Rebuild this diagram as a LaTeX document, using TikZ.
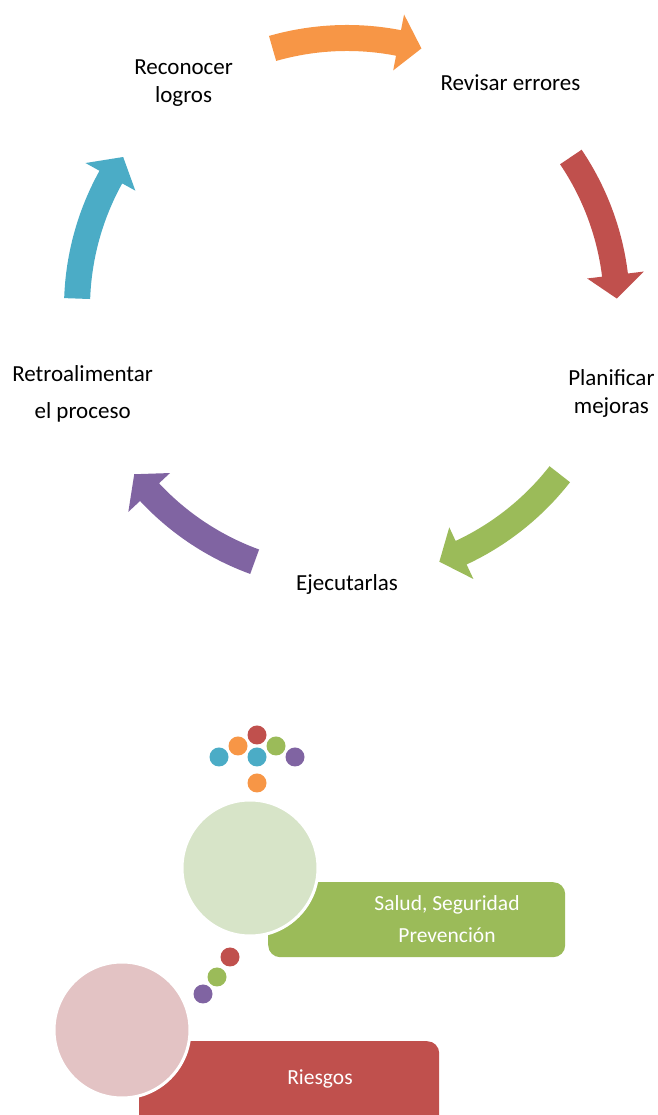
\documentclass[tikz,border=0pt]{standalone}
\usepackage{fontspec}
\setmainfont{Carlito}
\usetikzlibrary{positioning}
\definecolor{cOrange}{HTML}{F79646}
\definecolor{cRed}{HTML}{C0504D}
\definecolor{cGreen}{HTML}{9BBB59}
\definecolor{cPurple}{HTML}{8064A2}
\definecolor{cBlue}{HTML}{4BACC6}
\definecolor{cGreenLight}{RGB}{215,228,200}
\definecolor{cRedLight}{RGB}{227,195,196}

\begin{document}
\begin{tikzpicture}[
    x=1pt, y=1pt,
    lbl/.style={font=\fontsize{23}{28}\selectfont, align=center},
    boxtxt/.style={font=\fontsize{21.5}{32}\selectfont, align=center,
                   text=white},
    panel/.style={rounded corners=12pt, inner sep=0pt, anchor=north west},
    bubble/.style={circle, draw=white, line width=3pt, minimum size=136pt,
                   inner sep=0pt},
    dot/.style={circle, minimum size=19pt, inner sep=0pt}
  ]
  \useasboundingbox (0,0) rectangle (657,1115);

  % cycle of curved arrows
  \begin{scope}[shift={(347,807)}]
    \foreach \mid/\col in {90/cOrange, 18/cRed, -54/cGreen,
                           -126/cPurple, 162/cBlue} {
      \pgfmathsetmacro\ta{\mid+16}
      \pgfmathsetmacro\tb{\mid-16}
      \pgfmathsetmacro\th{\mid-11}
      \fill[\col] (\ta:283) arc[start angle=\ta, end angle=\th, radius=283]
        -- (\th:299) -- (\tb:270) -- (\th:242) -- (\th:257)
        arc[start angle=\th, end angle=\ta, radius=257] -- cycle;
    }
    \node[lbl] (logros)  at (126:278) {Reconocer\\logros};
    \node[lbl] (errores) at (54:278)  {Revisar errores};
    \node[lbl] (mejoras) at (-18:278) {Planificar\\mejoras};
    \node[lbl] (ejecutar) at (-90:276) {Ejecutarlas};
    \node[lbl] (retro)   at (-162:278) {Retroalimentar\\[9pt]el proceso};
  \end{scope}

  % dot cluster
  \foreach \px/\py/\col [count=\i] in {257/380/cRed, 238/369/cOrange,
      276/369/cGreen, 219/358/cBlue, 257/358/cBlue, 295/358/cPurple,
      257/332/cOrange} {
    \node[dot, fill=\col] (top\i) at (\px,\py) {};
  }

  % upper bubble with panel
  \node[panel, fill=cGreen, minimum width=297pt, minimum height=75pt]
    (saludbox) at (268,233) {};
  \node[bubble, fill=cGreenLight] (salud) at (250,247) {};
  \node[boxtxt] (saludtxt) at (447,196) {Salud, Seguridad\\Prevención};

  % chain of small dots
  \node[dot, fill=cRed]    (chain1) at (230,158) {};
  \node[dot, fill=cGreen]  (chain2) at (217,138) {};
  \node[dot, fill=cPurple] (chain3) at (203,121) {};

  % lower bubble with panel
  \node[panel, fill=cRed, minimum width=300pt, minimum height=95pt]
    (riesgosbox) at (139,74) {};
  \node[bubble, fill=cRedLight] (riesgos) at (122,85) {};
  \node[boxtxt] (riesgostxt) at (320,36) {Riesgos};
\end{tikzpicture}
\end{document}
